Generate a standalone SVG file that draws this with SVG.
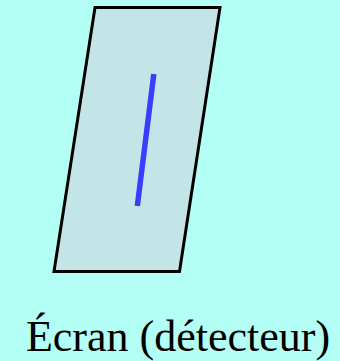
<svg xmlns="http://www.w3.org/2000/svg" width="340" height="361" viewBox="0 0 340 361">
<style>
.screen{fill:#c4e5e7;stroke:#000;stroke-width:3;stroke-linejoin:miter}
.mark{stroke:#3c3cff;stroke-width:5.5;stroke-linecap:butt}
.label{font-family:"Liberation Serif","Times New Roman",serif;font-size:44px;fill:#000}
</style>
<rect width="340" height="361" fill="#b3fff5"/>
<g id="screen">
<polygon class="screen" points="95,7.5 220,7.5 179.5,271.5 54,271.5"/>
<line class="mark" x1="153.8" y1="74" x2="137.3" y2="206"/>
</g>
<g id="label">
<text class="label" x="178" y="351" text-anchor="middle">Écran (détecteur)</text>
</g>
</svg>
